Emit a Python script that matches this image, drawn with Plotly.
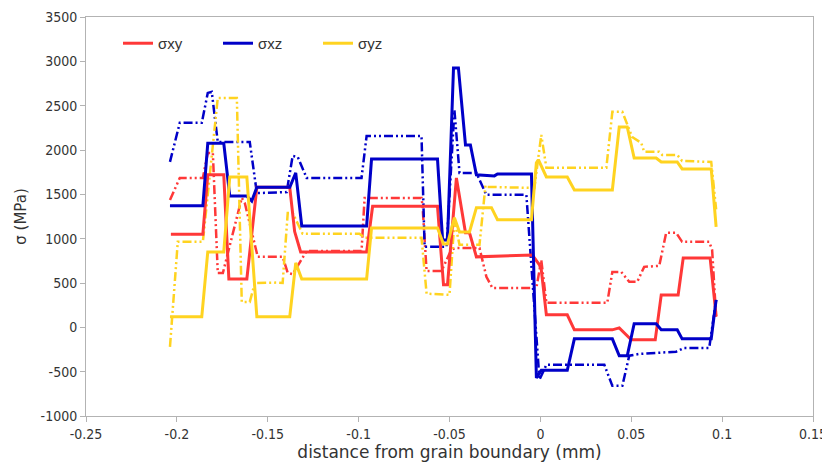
import plotly.graph_objects as go

# sigma_xy (solid) and its second curve (dash-dot-dot)
sxy_x = [-0.2033, -0.1857, -0.183, -0.1742, -0.1714, -0.1615, -0.156, -0.1379, -0.1352, -0.1319,
         -0.0956, -0.0923, -0.0566, -0.0533, -0.0511, -0.0462, -0.0412, -0.039, -0.0352, -0.0044,
         -0.0005, 0.0005, 0.0033, 0.0148, 0.0187, 0.0396, 0.0434, 0.05, 0.0632, 0.0665,
         0.0758, 0.0786, 0.0934, 0.0967]
sxy = [1050, 1050, 1720, 1720, 545, 545, 1580, 1580, 1080, 851,
       851, 1365, 1365, 480, 480, 1685, 1066, 1066, 795, 815,
       704, 650, 141, 141, -28, -28, -6, -141, -141, 366,
       366, 783, 783, 130]

sxy2_x = [-0.2038, -0.1984, -0.1857, -0.183, -0.1802, -0.1775, -0.1747, -0.1643, -0.1626, -0.1555,
          -0.1418, -0.139, -0.1363, -0.1308, -0.1286, -0.0984, -0.0967, -0.0654, -0.0648, -0.0626,
          -0.0544, -0.0489, -0.0462, -0.0335, -0.0297, -0.0264, -0.0022, 0.0005, 0.0033, 0.0368,
          0.0396, 0.0445, 0.0489, 0.0533, 0.0571, 0.0654, 0.0692, 0.0747, 0.078, 0.0929,
          0.0945, 0.0967]
sxy2 = [1437, 1685, 1685, 1967, 1967, 612, 612, 1460, 1400, 795,
        795, 615, 600, 795, 860, 860, 1460, 1460, 1360, 635,
        635, 880, 895, 895, 570, 445, 445, 760, 276, 276,
        625, 625, 513, 513, 682, 693, 1066, 1066, 964, 964,
        873, 118]

# sigma_xz
sxz_x = [-0.2038, -0.1857, -0.183, -0.1742, -0.1709, -0.1615, -0.1588, -0.156, -0.1379, -0.1346,
         -0.1313, -0.0956, -0.0929, -0.0566, -0.0538, -0.0511, -0.0478, -0.0451, -0.0412, -0.0385,
         -0.0352, -0.0253, -0.0236, -0.0049, -0.0022, 0.0005, 0.0148, 0.0187, 0.0396, 0.0434,
         0.0478, 0.0516, 0.0637, 0.0665, 0.0753, 0.078, 0.094, 0.0967]
sxz = [1370, 1370, 2075, 2075, 1480, 1480, 1425, 1580, 1580, 1742,
       1144, 1144, 1898, 1898, 986, 986, 2926, 2926, 2057, 2057,
       1720, 1708, 1730, 1730, -570, -485, -485, -130, -130, -320,
       -320, 40, 40, -28, -28, -130, -130, 310]

sxz2_x = [-0.2038, -0.1984, -0.1863, -0.183, -0.1808, -0.1775, -0.1599, -0.156, -0.1396, -0.1363,
          -0.1335, -0.1286, -0.0984, -0.0956, -0.0654, -0.0637, -0.0516, -0.0473, -0.0445, -0.0352,
          -0.0297, -0.0077, -0.0005, 0.0033, 0.0352, 0.0396, 0.0451, 0.0489, 0.0544, 0.0747,
          0.0791, 0.0929, 0.0967]
sxz2 = [1866, 2306, 2306, 2644, 2655, 2090, 2090, 1514, 1525, 1933,
        1922, 1685, 1685, 2159, 2159, 908, 908, 2452, 1742, 1742,
        1494, 1494, -590, -423, -423, -660, -660, -320, -300, -275,
        -232, -232, 310]

# sigma_yz
syz_x = [-0.2038, -0.1863, -0.183, -0.1742, -0.1709, -0.1615, -0.156, -0.1379, -0.1346, -0.1313,
         -0.0956, -0.0929, -0.0566, -0.0533, -0.0511, -0.0473, -0.0445, -0.039, -0.0352, -0.0269,
         -0.0236, -0.0049, -0.0022, -0.0011, 0.0033, 0.0148, 0.0187, 0.0396, 0.0434, 0.0478,
         0.0516, 0.0637, 0.0665, 0.0753, 0.078, 0.094, 0.0967]
syz = [118, 118, 851, 851, 1696, 1696, 118, 118, 727, 546,
       546, 1120, 1120, 940, 940, 1237, 1075, 1075, 1350, 1350,
       1213, 1213, 1855, 1890, 1696, 1696, 1550, 1550, 2260, 2260,
       1910, 1910, 1865, 1865, 1786, 1786, 1133]

syz2_x = [-0.2038, -0.1995, -0.1857, -0.1775, -0.167, -0.1643, -0.1599, -0.1571, -0.1445, -0.1418,
          -0.139, -0.1363, -0.1308, -0.0995, -0.0967, -0.0654, -0.0626, -0.05, -0.0473, -0.0445,
          -0.0335, -0.0302, -0.0297, -0.0033, 0.0005, 0.0033, 0.0363, 0.0396, 0.0451, 0.0478,
          0.0505, 0.0555, 0.0571, 0.0654, 0.067, 0.0753, 0.078, 0.094, 0.0967]
syz2 = [-220, 964, 964, 2587, 2587, 287, 287, 500, 505, 500,
        1290, 1290, 1055, 1055, 1010, 1010, 380, 366, 1210, 930,
        930, 1600, 1584, 1572, 2170, 1800, 1800, 2430, 2430, 2280,
        2147, 2080, 1980, 1980, 1945, 1945, 1877, 1865, 1330]

# tick labels (plain hyphen minus like the original)
x_ticks = [-0.25, -0.2, -0.15, -0.1, -0.05, 0, 0.05, 0.1, 0.15]
x_labels = ['-0.25', '-0.2', '-0.15', '-0.1', '-0.05', '0', '0.05', '0.1', '0.15']
y_ticks = [-1000, -500, 0, 500, 1000, 1500, 2000, 2500, 3000, 3500]
y_labels = ['-1000', '-500', '0', '500', '1000', '1500', '2000', '2500', '3000', '3500']

RED = '#ff3838'
BLUE = '#0000c8'
YELLOW = '#ffd320'
DASH = '9px,3px,2px,3px,2px,3px'

fig = go.Figure()

# dash-dot-dot curves first, solid ones drawn over them
fig.add_trace(go.Scatter(x=sxy2_x, y=sxy2, mode='lines', line=dict(color=RED, width=2.5, dash=DASH), showlegend=False))
fig.add_trace(go.Scatter(x=sxz2_x, y=sxz2, mode='lines', line=dict(color=BLUE, width=2.5, dash=DASH), showlegend=False))
fig.add_trace(go.Scatter(x=syz2_x, y=syz2, mode='lines', line=dict(color=YELLOW, width=2.5, dash=DASH), showlegend=False))

fig.add_trace(go.Scatter(x=sxy_x, y=sxy, mode='lines', line=dict(color=RED, width=3), name='σxy'))
fig.add_trace(go.Scatter(x=sxz_x, y=sxz, mode='lines', line=dict(color=BLUE, width=3), name='σxz'))
fig.add_trace(go.Scatter(x=syz_x, y=syz, mode='lines', line=dict(color=YELLOW, width=3), name='σyz'))

axis_common = dict(showgrid=False, zeroline=False, showline=True, linecolor='#b3b3b3', linewidth=1,
                   mirror=True, ticks='outside', tickcolor='#b3b3b3', ticklen=5, automargin=False,
                   tickfont=dict(family='DejaVu Sans Condensed', size=14, color='#333333'))

# page body has an 8px margin, so the figure is sized to fit the window
fig.update_layout(
    width=822, height=458,
    margin=dict(l=78, r=17, t=9, b=50),
    paper_bgcolor='white', plot_bgcolor='white',
    font=dict(family='DejaVu Sans', color='#333333'),
    legend=dict(orientation='h', x=0.044, y=0.975, xanchor='left', yanchor='top',
                bgcolor='rgba(0,0,0,0)', font=dict(family='Liberation Sans', size=15, color='#333333'),
                entrywidth=55, entrywidthmode='pixels', traceorder='normal'),
    xaxis=dict(range=[-0.25, 0.15], tickvals=x_ticks, ticktext=x_labels,
               title=dict(text='distance from grain boundary (mm)', font=dict(family='DejaVu Sans', size=17),
                          standoff=4),
               **axis_common),
    yaxis=dict(range=[-1000, 3500], tickvals=y_ticks, ticktext=y_labels,
               title=dict(text='σ (MPa)', font=dict(family='DejaVu Sans', size=15), standoff=10),
               **axis_common),
)

fig.write_html("out.html")
